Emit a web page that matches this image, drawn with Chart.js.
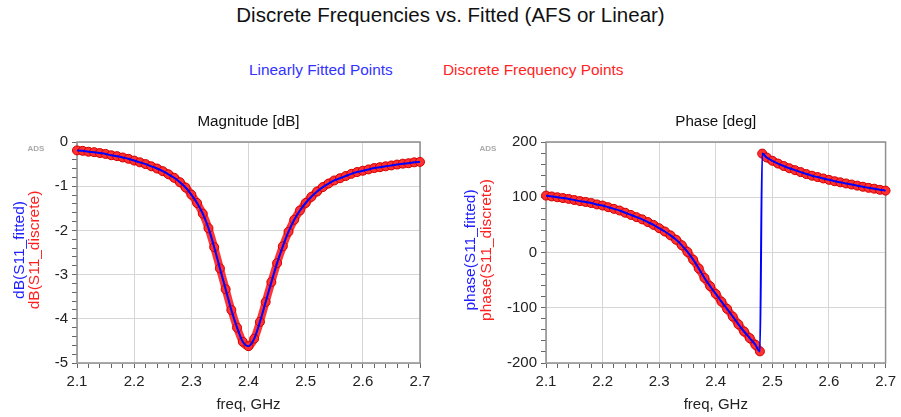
<!DOCTYPE html>
<html>
<head>
<meta charset="utf-8">
<title>Discrete Frequencies vs. Fitted</title>
<script src="https://cdn.jsdelivr.net/npm/chart.js@4.4.1/dist/chart.umd.min.js"></script>
<style>
  body { margin: 0; background: #fff; font-family: 'Liberation Sans', Arial, sans-serif; }
  #page { position: relative; width: 901px; height: 417px; overflow: hidden; }
  #title { position: absolute; left: 0; top: 3px; width: 901px; text-align: center; font-size: 20.5px; color: #111; }
  .leg { position: absolute; top: 61px; font-size: 15.4px; }
  canvas { position: absolute; top: 100px; }
</style>
</head>
<body>
<div id="page">
  <div id="title">Discrete Frequencies vs. Fitted (AFS or Linear)</div>
  <div class="leg" style="left:249px; color:#3333ff;">Linearly Fitted Points</div>
  <div class="leg" style="left:443px; color:#ff2424;">Discrete Frequency Points</div>
  <canvas id="magChart" width="450" height="317" style="left:0"></canvas>
  <canvas id="phaseChart" width="451" height="317" style="left:450px"></canvas>
</div>
<script>
// frequencies in GHz
var freqMag = [2.10, 2.11, 2.12, 2.13, 2.14, 2.15, 2.16, 2.17, 2.18, 2.19,
               2.20, 2.21, 2.22, 2.23, 2.24, 2.25, 2.26, 2.27, 2.28, 2.29,
               2.30, 2.31, 2.32, 2.33, 2.34, 2.35, 2.36, 2.37, 2.38, 2.39,
               2.40, 2.41, 2.42, 2.43, 2.44, 2.45, 2.46, 2.47, 2.48, 2.49,
               2.50, 2.51, 2.52, 2.53, 2.54, 2.55, 2.56, 2.57, 2.58, 2.59,
               2.60, 2.61, 2.62, 2.63, 2.64, 2.65, 2.66, 2.67, 2.68, 2.69, 2.70];
var magDb = [-0.19, -0.20, -0.22, -0.23, -0.25, -0.27, -0.30, -0.32, -0.35, -0.38,
             -0.42, -0.46, -0.50, -0.55, -0.60, -0.66, -0.73, -0.81, -0.91, -1.03,
             -1.19, -1.38, -1.62, -1.95, -2.38, -2.86, -3.33, -3.80, -4.20, -4.52,
             -4.62, -4.45, -4.07, -3.62, -3.17, -2.74, -2.36, -2.03, -1.76, -1.55,
             -1.38, -1.24, -1.12, -1.02, -0.94, -0.87, -0.82, -0.77, -0.72, -0.68,
             -0.65, -0.62, -0.59, -0.57, -0.55, -0.53, -0.51, -0.49, -0.48, -0.46, -0.45];

// phase, split at the wrap from -180 to +180
var freqPhaseLow = [2.10, 2.11, 2.12, 2.13, 2.14, 2.15, 2.16, 2.17, 2.18, 2.19,
                    2.20, 2.21, 2.22, 2.23, 2.24, 2.25, 2.26, 2.27, 2.28, 2.29,
                    2.30, 2.31, 2.32, 2.33, 2.34, 2.35, 2.36, 2.37, 2.38, 2.39,
                    2.40, 2.41, 2.42, 2.43, 2.44, 2.45, 2.46, 2.47, 2.478];
var phaseLow = [103, 101.5, 100, 98.5, 97, 95, 93, 91.5, 89.5, 87,
                85, 82, 79, 76, 72, 68, 64, 60, 55, 50,
                44, 38, 31, 23, 13, 1, -13, -29, -46, -61,
                -75, -89, -102, -116, -130, -143, -155, -167, -179];
var freqPhaseHigh = [2.482, 2.49, 2.50, 2.51, 2.52, 2.53, 2.54, 2.55, 2.56, 2.57, 2.58,
                     2.59, 2.60, 2.61, 2.62, 2.63, 2.64, 2.65, 2.66, 2.67, 2.68, 2.69, 2.70];
var phaseHigh = [179, 172, 166, 161, 156.5, 152.5, 149, 145.5, 142, 139, 136.5,
                 134, 131.5, 129, 127, 125, 123, 121, 119, 117, 115.5, 113.5, 112];

var xTicks = ['2.1', '2.2', '2.3', '2.4', '2.5', '2.6', '2.7'];

function pts(xs, ys) {
  return xs.map(function (x, i) { return { x: x, y: ys[i] }; });
}
function isMajor(v, step) {
  return Math.abs(v / step - Math.round(v / step)) < 1e-6;
}

Chart.defaults.font.family = "'Liberation Sans', Arial, sans-serif";
Chart.defaults.font.size = 15;
Chart.defaults.color = '#222';

// frame, subplot title, ADS tag and the two-coloured y titles
var decor = {
  id: 'decor',
  beforeDatasetsDraw: function (chart) {
    var a = chart.chartArea, ctx = chart.ctx;
    ctx.save();
    ctx.strokeStyle = '#8f8f8f';
    ctx.lineWidth = 1.5;
    ctx.strokeRect(a.left, a.top, a.right - a.left, a.bottom - a.top);
    ctx.restore();
  },
  afterDraw: function (chart, args, o) {
    var a = chart.chartArea, ctx = chart.ctx;
    ctx.save();
    ctx.textAlign = 'center';
    ctx.textBaseline = 'middle';
    ctx.fillStyle = '#111';
    ctx.font = "15.2px 'Liberation Sans', Arial";
    ctx.fillText(o.title, (a.left + a.right) / 2, 22);
    ctx.fillStyle = '#aaa';
    ctx.font = "bold 8px 'Liberation Sans', Arial";
    ctx.fillText('ADS', o.adsX, 49);
    ctx.font = "15.5px 'Liberation Sans', Arial";
    o.yLabels.forEach(function (l) {
      ctx.save();
      ctx.translate(l.x, 150);
      ctx.rotate(-Math.PI / 2);
      ctx.fillStyle = l.color;
      ctx.fillText(l.text, 0, 0);
      ctx.restore();
    });
    ctx.restore();
  }
};

function makeChart(id, fitted, discrete, y, deco, yWidth, padRight) {
  return new Chart(document.getElementById(id), {
    type: 'line',
    data: {
      datasets: [{
        label: 'Linearly Fitted Points',
        data: fitted,
        borderColor: '#0000ff',
        borderWidth: 2,
        pointRadius: 0,
        cubicInterpolationMode: 'monotone',
        clip: false
      }, {
        label: 'Discrete Frequency Points',
        data: discrete,
        borderColor: 'rgba(255,30,30,0.9)',
        borderWidth: 8,
        pointRadius: 4.5,
        pointBorderWidth: 1,
        pointBorderColor: '#d40000',
        pointBackgroundColor: '#ff3030',
        cubicInterpolationMode: 'monotone',
        clip: false
      }]
    },
    options: {
      responsive: false,
      animation: false,
      layout: { padding: { top: 42, right: padRight, left: 0, bottom: 1.4 } },
      plugins: {
        legend: { display: false },
        tooltip: { enabled: false },
        decor: deco
      },
      scales: {
        x: {
          type: 'linear',
          min: 2.1,
          max: 2.7,
          ticks: {
            stepSize: 0.02,
            maxTicksLimit: 100,
            autoSkip: false,
            maxRotation: 0,
            padding: 5,
            color: '#222',
            callback: function (v) {
              return isMajor(v, 0.1) ? xTicks[Math.round((v - 2.1) * 10)] : '';
            }
          },
          grid: {
            color: function (c) { return c.tick && isMajor(c.tick.value, 0.1) ? '#d6d6d6' : 'rgba(0,0,0,0)'; },
            tickColor: '#666',
            tickLength: 5
          },
          border: { display: false },
          title: { display: true, text: 'freq, GHz', color: '#222', font: { size: 15 }, padding: { top: 0, bottom: 1.6 } }
        },
        y: {
          min: y.min,
          max: y.max,
          afterFit: function (scale) { scale.width = yWidth; },
          ticks: {
            stepSize: y.minor,
            maxTicksLimit: 100,
            autoSkip: false,
            padding: 4,
            color: '#222',
            callback: function (v) {
              return isMajor(v, y.major) ? String(Math.round(v)) : '';
            }
          },
          grid: {
            color: function (c) { return c.tick && isMajor(c.tick.value, y.major) ? '#d6d6d6' : 'rgba(0,0,0,0)'; },
            tickColor: '#666',
            tickLength: 5
          },
          border: { display: false }
        }
      }
    },
    plugins: [decor]
  });
}

makeChart('magChart',
  pts(freqMag, magDb),
  pts(freqMag, magDb),
  { min: -5, max: 0, minor: 0.2, major: 1 },
  {
    title: 'Magnitude [dB]',
    adsX: 36,
    yLabels: [
      { text: 'dB(S11_fitted)', color: '#2020ff', x: 20 },
      { text: 'dB(S11_discrete)', color: '#ff2020', x: 35 }
    ]
  }, 77, 30);

makeChart('phaseChart',
  pts(freqPhaseLow, phaseLow).concat(pts(freqPhaseHigh, phaseHigh)),
  pts(freqPhaseLow, phaseLow).concat([{ x: 2.48, y: null }], pts(freqPhaseHigh, phaseHigh)),
  { min: -200, max: 200, minor: 20, major: 100 },
  {
    title: 'Phase [deg]',
    adsX: 38,
    yLabels: [
      { text: 'phase(S11_fitted)', color: '#2020ff', x: 21 },
      { text: 'phase(S11_discrete)', color: '#ff2020', x: 37 }
    ]
  }, 96, 12);
</script>
</body>
</html>
